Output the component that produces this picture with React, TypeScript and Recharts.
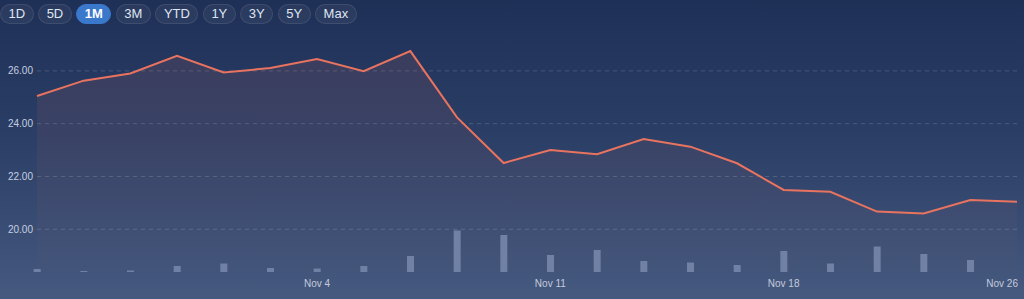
import React from 'react';
import { ComposedChart, Area, Bar, XAxis, YAxis, CartesianGrid } from 'recharts';

const dates = [
  'Oct 25', 'Oct 28', 'Oct 29', 'Oct 30', 'Oct 31', 'Nov 1', 'Nov 4', 'Nov 5', 'Nov 6', 'Nov 7', 'Nov 8',
  'Nov 11', 'Nov 12', 'Nov 13', 'Nov 14', 'Nov 15', 'Nov 18', 'Nov 19', 'Nov 20', 'Nov 21', 'Nov 22', 'Nov 26',
];
const prices = [
  25.05, 25.63, 25.9, 26.57, 25.94, 26.11, 26.45, 25.99, 26.75, 24.24, 22.51,
  23.0, 22.84, 23.42, 23.13, 22.5, 21.49, 21.42, 20.67, 20.6, 21.11, 21.04,
];
const volumes = [
  3, 1, 1.5, 6, 8.5, 4, 3.5, 6, 16, 41.5, 37,
  17, 22, 11, 9.5, 7, 21, 8.5, 25.5, 18, 12, 0,
];
const xTickLabels = ['Nov 4', 'Nov 11', 'Nov 18', 'Nov 26'];
const priceTicks = [20, 22, 24, 26];
const ranges = ['1D', '5D', '1M', '3M', 'YTD', '1Y', '3Y', '5Y', 'Max'];
const selectedRange = '1M';

const data = dates.map((d, i) => ({ i, date: d, price: prices[i], volume: volumes[i] }));
const xTicks = xTickLabels.map((l) => dates.indexOf(l));

const FONT = '"Liberation Sans", Arial, Helvetica, sans-serif';

const XTick = (props: any) => {
  const { x, y, payload } = props;
  const last = payload.value === dates.length - 1;
  return (
    <text x={last ? x + 1 : x} y={y} dy="0.71em" textAnchor={last ? 'end' : 'middle'} fill="#c3cbdc" fontSize={10} fontFamily={FONT}>
      {dates[payload.value]}
    </text>
  );
};

const GridLine = (props: any) => {
  const { x1, y1, x2, y2, y, height } = props;
  if (typeof y === 'number' && typeof height === 'number') {
    if (Math.abs(y1 - y) < 0.5 || Math.abs(y1 - (y + height)) < 0.5) return null;
  }
  return (
    <line x1={x1} y1={y1} x2={x2} y2={y2} stroke="rgba(255,255,255,0.16)" strokeDasharray="4 4" fill="none" />
  );
};

export default function App() {
  return (
    <div
      style={{
        position: 'absolute',
        left: 0,
        top: 0,
        width: 1024,
        height: 299,
        overflow: 'hidden',
        background: 'linear-gradient(180deg, #1f3057 0%, #2a3e66 45%, #46597f 100%)',
        fontFamily: FONT,
      }}
    >
      <div style={{ position: 'absolute', left: 0, top: 4, display: 'flex', gap: 4.5 }}>
        {ranges.map((r) => {
          const sel = r === selectedRange;
          return (
            <div
              key={r}
              style={{
                height: 20,
                boxSizing: 'border-box',
                padding: '0 7.5px',
                borderRadius: 10,
                lineHeight: '18px',
                fontSize: 13,
                fontWeight: sel ? 700 : 400,
                color: sel ? '#ffffff' : '#dfe5f0',
                background: sel ? '#3a78cb' : 'rgba(255,255,255,0.05)',
                border: sel ? '1px solid #3a78cb' : '1px solid rgba(255,255,255,0.09)',
              }}
            >
              {r}
            </div>
          );
        })}
      </div>
      <div style={{ position: 'absolute', left: 0, top: 0 }}>
        <ComposedChart width={1024} height={299} data={data} margin={{ top: 30, right: 7, bottom: 0, left: 0 }}>
          <defs>
            <linearGradient id="priceFill" x1="0" y1="0" x2="0" y2="1">
              <stop offset="0%" stopColor="#e8735f" stopOpacity={0.2} />
              <stop offset="100%" stopColor="#e8735f" stopOpacity={0.02} />
            </linearGradient>
          </defs>
          <CartesianGrid
            yAxisId="price"
            vertical={false}
            stroke="rgba(255,255,255,0.16)"
            strokeDasharray="4 4"
            horizontal={<GridLine />}
          />
          <XAxis
            dataKey="i"
            type="number"
            domain={[0, dates.length - 1]}
            ticks={xTicks}
            interval={0}
            height={27}
            axisLine={false}
            tickLine={false}
            tickSize={0}
            tickMargin={8}
            tick={<XTick />}
          />
          <YAxis
            yAxisId="price"
            domain={[18.38, 27.55]}
            ticks={priceTicks}
            width={37}
            axisLine={false}
            tickLine={false}
            tickSize={0}
            tickMargin={4}
            tickFormatter={(v: number) => v.toFixed(2)}
            tick={{ fill: '#c6cee0', fontSize: 10, fontFamily: FONT }}
          />
          <YAxis yAxisId="vol" hide domain={[0, 242]} />
          <Bar yAxisId="vol" dataKey="volume" barSize={7} fill="#7081a5" isAnimationActive={false} />
          <Area
            yAxisId="price"
            type="linear"
            dataKey="price"
            stroke="#e8735f"
            strokeWidth={2}
            fill="url(#priceFill)"
            dot={false}
            activeDot={false}
            isAnimationActive={false}
          />
        </ComposedChart>
      </div>
    </div>
  );
}
